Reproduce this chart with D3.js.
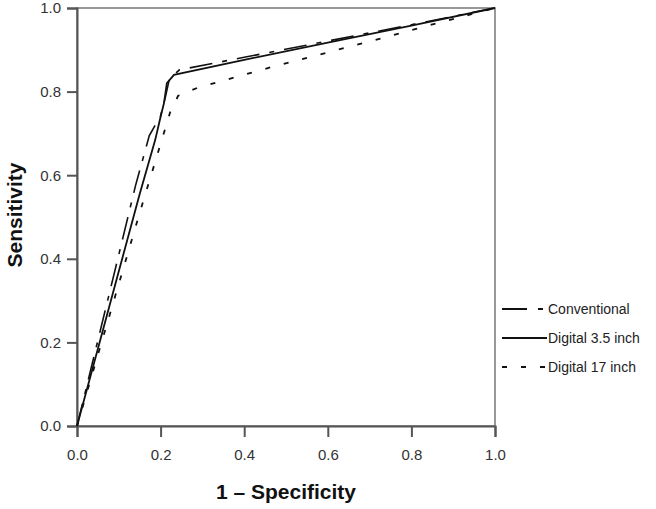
<!DOCTYPE html>
<html><head><meta charset="utf-8">
<script src="https://cdn.jsdelivr.net/npm/d3@7"></script>
<style>body{margin:0;background:#fff}</style>
</head><body>
<svg id="c" width="656" height="509"></svg>
<script>
const xTicks = [0, 0.2, 0.4, 0.6, 0.8, 1.0];
const yTicks = [0, 0.2, 0.4, 0.6, 0.8, 1.0];
const seriesNames = ["Conventional", "Digital 3.5 inch", "Digital 17 inch"];
const conventional = [[0,0],[0.05,0.205],[0.1,0.41],[0.14,0.575],[0.173,0.695],[0.2,0.742],[0.211,0.785],[0.221,0.83],[0.245,0.852],[0.4,0.882],[0.6,0.921],[0.8,0.96],[1,1]];
const digital35 = [[0,0],[0.05,0.185],[0.1,0.37],[0.15,0.555],[0.187,0.684],[0.2,0.74],[0.208,0.772],[0.215,0.82],[0.232,0.84],[0.4,0.876],[0.6,0.917],[0.8,0.958],[1,1]];
const digital17 = [[0,0],[0.05,0.17],[0.1,0.34],[0.15,0.51],[0.197,0.665],[0.223,0.751],[0.242,0.79],[0.288,0.809],[0.463,0.858],[0.7,0.92],[0.863,0.964],[1,1]];

const svg = d3.select("#c");
const x = d3.scaleLinear().domain([0,1]).range([77,495]);
const y = d3.scaleLinear().domain([0,1]).range([426,8]);

// frame
svg.append("rect").attr("x",77).attr("y",8).attr("width",418).attr("height",418)
  .attr("fill","none").attr("stroke","#777").attr("stroke-width",1.5);

const fmt = d3.format(".1f");
const gx = svg.append("g").attr("transform","translate(0,426)")
  .call(d3.axisBottom(x).tickValues(xTicks).tickFormat(fmt).tickSize(11).tickPadding(12));
const gy = svg.append("g").attr("transform","translate(77,0)")
  .call(d3.axisLeft(y).tickValues(yTicks).tickFormat(fmt).tickSize(10).tickPadding(6));
[gx,gy].forEach(g=>{
  g.select(".domain").attr("stroke","#555").attr("stroke-width",2);
  g.selectAll(".tick line").attr("stroke","#555").attr("stroke-width",2);
  g.selectAll(".tick text").attr("fill","#333").style("font-family","Liberation Sans, Arial, sans-serif").style("font-size","15px");
});

const styles = [
  {data: conventional, dash: "23,10,5,10", w: 1.6},
  {data: digital35, dash: null, w: 1.8},
  {data: digital17, dash: "5,14", w: 1.8}
];
styles.forEach(s=>{
  svg.append("path").datum(s.data).attr("d", d3.line().x(d=>x(d[0])).y(d=>y(d[1])))
    .attr("fill","none").attr("stroke","#111").attr("stroke-width",s.w)
    .attr("stroke-dasharray",s.dash);
});

// legend
const legY = [309, 338, 367];
const legDash = ["25,11,5,20", null, "5,14"];
seriesNames.forEach((n,i)=>{
  svg.append("line").attr("x1",502).attr("x2",547).attr("y1",legY[i]).attr("y2",legY[i])
    .attr("stroke","#111").attr("stroke-width",1.8).attr("stroke-dasharray",legDash[i]);
  svg.append("text").attr("x",548).attr("y",legY[i]).attr("dy","0.35em")
    .attr("fill","#222").style("font-family","Liberation Sans, Arial, sans-serif").style("font-size","14px").text(n);
});

// titles
svg.append("text").attr("x",286).attr("y",499).attr("text-anchor","middle")
  .style("font-family","Liberation Sans, Arial, sans-serif")
  .style("font-weight","bold").style("font-size","21px").attr("fill","#111").text("1 – Specificity");
svg.append("text").attr("transform","translate(22,215) rotate(-90)").attr("text-anchor","middle")
  .style("font-family","Liberation Sans, Arial, sans-serif")
  .style("font-weight","bold").style("font-size","21px").attr("fill","#111").text("Sensitivity");
</script>
</body></html>
